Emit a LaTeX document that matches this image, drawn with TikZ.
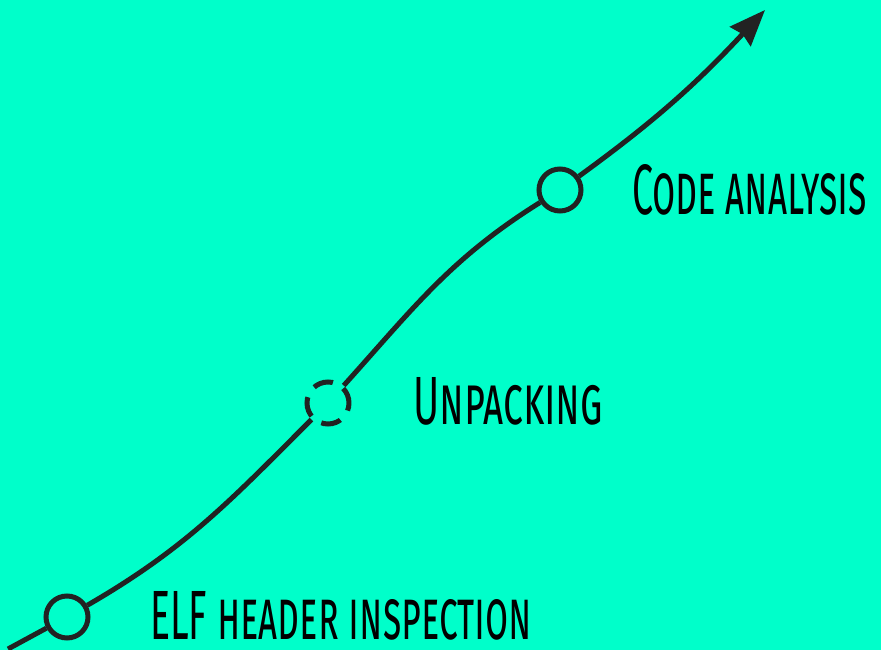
\documentclass[tikz,border=0pt]{standalone}
\usepackage{fontspec}
\setmainfont{Fira Sans}
\usetikzlibrary{arrows.meta}
\definecolor{mint}{RGB}{0,255,202}
\definecolor{ink}{RGB}{34,34,34}
\begin{document}
\begin{tikzpicture}[
   x=1pt, y=1pt,
   stop/.style={draw=ink, circle, line width=5pt, minimum size=42pt,
      inner sep=0pt},
   dashstop/.style={stop, dash pattern=on 20pt off 12pt, dash phase=4pt},
   road/.style={draw=ink, line width=5pt},
   arrow/.style={road, -{Stealth[length=36pt, width=28pt, inset=3pt]}},
   lab/.style={anchor=base west, inner sep=0pt, text=black}
]
\fill[mint] (0,0) rectangle (881,650);
\useasboundingbox (0,0) rectangle (881,650);

\coordinate (start) at (8,1);
\coordinate (tip) at (765,640);
\node[stop] (header) at (67,33) {};
\node[dashstop] (unpack) at (328,247) {};
\node[stop] (code) at (560,460) {};

\node[lab] (headerlab) at (150,10)
   {\resizebox{382pt}{48pt}{\textsc{ELF header inspection}}};
\node[lab] (unpacklab) at (413,225)
   {\resizebox{190pt}{47pt}{\textsc{Unpacking}}};
\node[lab] (codelab) at (632,435)
   {\resizebox{235pt}{50pt}{\textsc{Code analysis}}};

\draw[road] (start) -- (header);
\draw[road] (header) to[out=30, in=225] (unpack);
\draw[road] (unpack) to[out=48, in=212] (code);
\draw[arrow] (code) to[out=36, in=227] (tip);
\end{tikzpicture}
\end{document}
